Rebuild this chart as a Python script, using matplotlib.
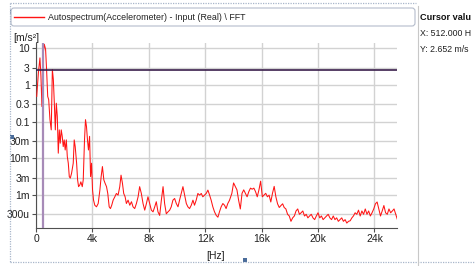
import matplotlib
matplotlib.use("Agg")
import matplotlib.pyplot as plt
from matplotlib.patches import FancyBboxPatch, Rectangle
from matplotlib.ticker import FixedLocator, NullLocator

plt.rcParams['font.family'] = ['Liberation Sans', 'DejaVu Sans']

# spectrum: frequency in kHz, level in m/s^2
freq_khz = [
    0.05, 0.17, 0.28, 0.35, 0.42, 0.52, 0.59, 0.68, 0.75, 0.83, 0.90, 0.99, 1.08, 1.16, 1.23,
    1.30, 1.37, 1.44, 1.51, 1.58, 1.65, 1.72, 1.79, 1.86, 1.93, 2.00, 2.07, 2.15, 2.22, 2.29,
    2.36, 2.43, 2.52, 2.64, 2.71, 2.78, 2.88, 2.95, 3.02, 3.11, 3.18, 3.28, 3.35, 3.44, 3.51,
    3.58, 3.65, 3.72, 3.80, 3.87, 3.94, 4.01, 4.08, 4.17, 4.29, 4.41, 4.53, 4.62, 4.71, 4.81,
    4.90, 5.00, 5.09, 5.19, 5.28, 5.37, 5.47, 5.59, 5.70, 5.82, 5.94, 6.03, 6.13, 6.22, 6.32,
    6.41, 6.53, 6.65, 6.77, 6.88, 7.00, 7.12, 7.24, 7.35, 7.47, 7.59, 7.71, 7.83, 7.94, 8.06,
    8.18, 8.30, 8.42, 8.53, 8.65, 8.77, 8.89, 9.01, 9.12, 9.24, 9.36, 9.48, 9.59, 9.71, 9.83,
    9.95, 10.07, 10.18, 10.30, 10.42, 10.54, 10.66, 10.77, 10.89, 11.01, 11.13, 11.24, 11.36,
    11.48, 11.60, 11.72, 11.83, 11.95, 12.07, 12.19, 12.31, 12.42, 12.54, 12.66, 12.78, 12.90,
    13.01, 13.13, 13.25, 13.37, 13.48, 13.60, 13.72, 13.89, 14.01, 14.13, 14.25, 14.37, 14.49,
    14.61, 14.73, 14.85, 14.97, 15.09, 15.21, 15.33, 15.45, 15.57, 15.69, 15.81, 15.93, 16.05,
    16.17, 16.29, 16.41, 16.53, 16.65, 16.77, 16.89, 17.01, 17.13, 17.25, 17.37, 17.49, 17.60,
    17.72, 17.84, 17.96, 18.08, 18.20, 18.32, 18.44, 18.56, 18.68, 18.80, 18.92, 19.04, 19.16,
    19.28, 19.40, 19.52, 19.64, 19.76, 19.88, 20.00, 20.12, 20.24, 20.36, 20.48, 20.60, 20.72,
    20.84, 20.96, 21.08, 21.20, 21.32, 21.44, 21.56, 21.68, 21.80, 21.92, 22.04, 22.16, 22.28,
    22.40, 22.51, 22.63, 22.75, 22.87, 22.99, 23.11, 23.23, 23.35, 23.47, 23.59, 23.71, 23.83,
    23.95, 24.07, 24.19, 24.31, 24.43, 24.55, 24.67, 24.79, 24.91, 25.03, 25.15, 25.27, 25.39,
    25.51, 25.63,
]
accel = [
    0.49, 2.15, 5.5, 1.75, 0.26, 7.6, 12.9, 9.4, 2.66, 0.49, 0.40, 0.114, 0.060, 2.66, 1.42,
    0.32, 0.060, 0.32, 0.14, 0.0139, 0.060, 0.026, 0.060, 0.040, 0.021, 0.032, 0.017, 0.032, 0.0112, 0.0074,
    0.0032, 0.0029, 0.0039, 0.0074, 0.032, 0.021, 0.0074, 0.0026, 0.0017, 0.0019, 0.0023, 0.0017, 0.0026, 0.032, 0.114,
    0.074, 0.032, 0.017, 0.040, 0.0032, 0.0074, 0.00137, 7.3e-4, 5.3e-4, 4.8e-4, 5.9e-4, 0.00137, 0.0032, 0.0060, 0.0026,
    0.0021, 0.0017, 0.00111, 4.8e-4, 4.3e-4, 5.3e-4, 7.3e-4, 9.0e-4, 0.00111, 1.0e-3, 0.0017, 0.0035, 0.0021, 0.00111, 9.0e-4,
    5.9e-4, 7.3e-4, 5.3e-4, 6.6e-4, 4.8e-4, 4.3e-4, 5.9e-4, 9.0e-4, 0.0017, 0.00111, 5.9e-4, 3.9e-4, 5.9e-4, 9.0e-4, 5.9e-4,
    3.9e-4, 3.5e-4, 4.8e-4, 6.6e-4, 3.5e-4, 2.8e-4, 7.3e-4, 0.0017, 5.9e-4, 3.1e-4, 3.5e-4, 3.9e-4, 4.8e-4, 7.3e-4, 8.1e-4,
    5.9e-4, 4.8e-4, 7.3e-4, 0.00111, 0.0017, 1.0e-3, 5.9e-4, 4.8e-4, 4.3e-4, 5.3e-4, 7.3e-4, 5.3e-4, 7.3e-4,
    0.00111, 1.0e-3, 0.00111, 9.0e-4, 1.0e-3, 0.00111, 0.00137, 1.0e-3, 7.3e-4, 4.8e-4, 3.5e-4, 2.8e-4, 2.5e-4,
    3.5e-4, 4.8e-4, 5.9e-4, 5.3e-4, 4.3e-4, 5.9e-4, 7.2e-4, 1.12e-3, 2.15e-3, 1.73e-3, 1.39e-3, 7.2e-4, 4.2e-4,
    1.12e-3, 1.39e-3, 1.12e-3, 9.0e-4, 1.24e-3, 1.55e-3, 1.45e-3, 1.55e-3, 1.24e-3, 9.0e-4, 1.39e-3, 2.4e-3, 9.0e-4,
    1.0e-3, 1.12e-3, 9.0e-4, 1.0e-3, 6.5e-4, 1.12e-3, 1.73e-3, 9.0e-4, 5.8e-4, 4.6e-4, 5.2e-4, 5.8e-4, 4.6e-4,
    4.2e-4, 3.0e-4, 2.7e-4, 1.93e-4, 2.4e-4, 2.7e-4, 3.7e-4, 4.2e-4, 3.0e-4, 3.3e-4, 3.7e-4, 2.7e-4, 3.0e-4,
    2.4e-4, 2.7e-4, 3.0e-4, 2.4e-4, 2.15e-4, 2.7e-4, 3.3e-4, 2.4e-4, 2.7e-4, 2.15e-4, 2.4e-4, 2.7e-4, 3.0e-4,
    2.4e-4, 2.15e-4, 2.7e-4, 2.15e-4, 2.4e-4, 1.93e-4, 2.15e-4, 2.4e-4, 1.93e-4, 2.15e-4, 1.73e-4, 1.93e-4, 2.0e-4,
    2.4e-4, 2.7e-4, 3.3e-4, 3.0e-4, 3.9e-4, 2.7e-4, 3.7e-4, 3.0e-4, 4.2e-4, 3.0e-4, 3.7e-4, 2.7e-4, 3.3e-4,
    4.2e-4, 5.8e-4, 6.5e-4, 4.2e-4, 2.7e-4, 3.7e-4, 5.2e-4, 3.3e-4, 3.0e-4, 4.2e-4, 3.3e-4, 3.7e-4, 4.2e-4,
    3.0e-4, 2.15e-4,
]

x_ticks = [0, 4000, 8000, 12000, 16000, 20000, 24000]
x_labels = ["0", "4k", "8k", "12k", "16k", "20k", "24k"]
y_ticks = [10, 3, 1, 0.3, 0.1, 0.03, 0.01, 0.003, 0.001, 0.0003]
y_labels = ["10", "3", "1", "0.3", "0.1", "30m", "10m", "3m", "1m", "300u"]

cursor_x = 512.0
cursor_y = 2.652
legend_text = "Autospectrum(Accelerometer) - Input (Real) \\ FFT"

W, H = 475, 266
fig = plt.figure(figsize=(W / 100, H / 100), dpi=100)
ax = fig.add_axes([36 / W, 1 - 228 / H, (397 - 36) / W, (228 - 43) / H])

ax.plot([f * 1000 for f in freq_khz], accel, color="#ff1414", lw=0.75, zorder=3)
ax.set_yscale("log")
ax.set_xlim(0, 25600)
ax.set_ylim(1.27e-4, 14)
ax.axvline(cursor_x, color="#a78bb8", lw=1.6, zorder=4)
ax.axhline(cursor_y, color="#3a1e4c", lw=1.2, zorder=4)

ax.xaxis.set_major_locator(FixedLocator(x_ticks))
ax.set_xticklabels(x_labels)
ax.yaxis.set_major_locator(FixedLocator(y_ticks))
ax.yaxis.set_minor_locator(NullLocator())
ax.set_yticklabels(y_labels)
ax.grid(True, color="#d2d2d2", lw=1.0, zorder=0)
ax.set_axisbelow(True)
for side in ("top", "right"):
    ax.spines[side].set_visible(False)
for side in ("left", "bottom"):
    ax.spines[side].set_color("#505050")
ax.tick_params(axis="both", labelsize=7.5, length=3, width=0.8, color="#505050", pad=1.5, labelcolor="#202020")

# overlay in pixel coordinates for the panel decorations
ov = fig.add_axes([0, 0, 1, 1], zorder=5)
ov.set_xlim(0, W)
ov.set_ylim(H, 0)
ov.axis("off")

ov.plot([10, 416], [3, 3], color="#a8b6ca", lw=0.9, ls=(0, (1, 1)))
ov.plot([10, 10], [3, 262], color="#a8b6ca", lw=0.9, ls=(0, (1, 1)))
ov.plot([10, W], [262, 262], color="#a8b6ca", lw=0.9, ls=(0, (1, 1)))
ov.plot([417.5, 417.5], [6, H], color="#c8c8c8", lw=0.8)
for sx, sy in [(11.5, 12), (11.5, 137), (245, 260)]:
    ov.add_patch(Rectangle((sx - 2, sy - 2), 4, 4, color="#4a6c9a", lw=0))

ov.add_patch(FancyBboxPatch((11, 8), 404, 18, boxstyle="round,pad=0,rounding_size=3",
                            fc="white", ec="#b4bccb", lw=0.8))
ov.plot([14, 44], [17, 17], color="#ff1414", lw=1.0)
ov.text(48, 17, legend_text, fontsize=6.4, va="center", ha="left", color="#202020")

ov.text(13, 38, "[m/s²]", fontsize=7.5, va="center", ha="left", color="#202020")
ov.text(216, 256, "[Hz]", fontsize=7.5, va="center", ha="center", color="#202020")

ov.text(420, 18, "Cursor valu", fontsize=6.6, fontweight="bold", va="center", ha="left", color="#101010")
ov.text(420, 33, "X: 512.000 H", fontsize=6.3, va="center", ha="left", color="#202020")
ov.text(420, 50, "Y: 2.652 m/s", fontsize=6.3, va="center", ha="left", color="#202020")

fig.savefig("out.png", dpi=100)
